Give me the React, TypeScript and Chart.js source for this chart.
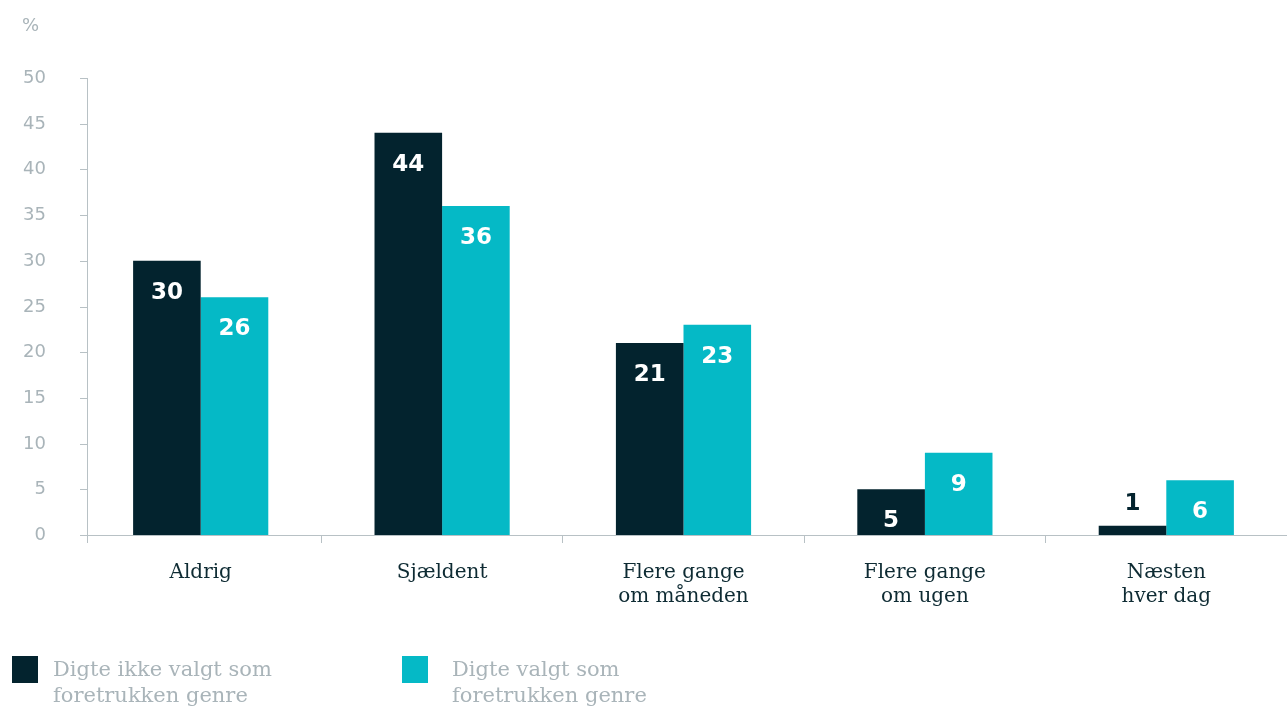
import React, { useEffect, useRef } from "react";
import { Chart, registerables } from "chart.js";

Chart.register(...registerables);

const categories: string[][] = [
  ["Aldrig"],
  ["Sjældent"],
  ["Flere gange", "om måneden"],
  ["Flere gange", "om ugen"],
  ["Næsten", "hver dag"],
];
const notChosen: number[] = [30, 44, 21, 5, 1];
const chosen: number[] = [26, 36, 23, 9, 6];
const yTicks: number[] = [0, 5, 10, 15, 20, 25, 30, 35, 40, 45, 50];
const seriesNames: string[][] = [
  ["Digte ikke valgt som", "foretrukken genre"],
  ["Digte valgt som", "foretrukken genre"],
];

const DARK = "#03232e";
const TEAL = "#05b9c6";
const GRAY = "#a9b4b9";
const AXIS = "#b8c1c5";
const TEXT = "#0e2b33";

const W = 1287;
const H = 706;

const customPlugin = {
  id: "custom",
  afterDraw(chart: any) {
    const ctx = chart.ctx;
    const y = chart.scales.y;
    const axisX = chart.chartArea.left + 7;
    ctx.save();
    // y axis
    ctx.strokeStyle = AXIS;
    ctx.lineWidth = 1;
    ctx.beginPath();
    ctx.moveTo(axisX + 0.5, y.getPixelForValue(50));
    ctx.lineTo(axisX + 0.5, y.getPixelForValue(0) + 8);
    ctx.stroke();
    ctx.fillStyle = GRAY;
    ctx.font = "18px 'DejaVu Sans'";
    ctx.textAlign = "right";
    ctx.textBaseline = "middle";
    yTicks.forEach((t) => {
      const py = Math.round(y.getPixelForValue(t)) + 0.5;
      ctx.beginPath();
      ctx.moveTo(axisX - 7, py);
      ctx.lineTo(axisX, py);
      ctx.stroke();
      ctx.fillText(String(t), 46, py);
    });
    ctx.textAlign = "left";
    ctx.fillText("%", 22, 26);

    // data labels
    chart.data.datasets.forEach((ds: any, di: number) => {
      const meta = chart.getDatasetMeta(di);
      meta.data.forEach((bar: any, i: number) => {
        const h = bar.base - bar.y;
        ctx.font = "bold 23px 'DejaVu Sans'";
        ctx.textAlign = "center";
        ctx.textBaseline = "middle";
        if (h > 40) {
          ctx.fillStyle = "#ffffff";
          ctx.fillText(String(ds.data[i]), bar.x, bar.y + 32);
        } else {
          ctx.fillStyle = DARK;
          ctx.fillText(String(ds.data[i]), bar.x, bar.y - 22);
        }
      });
    });

    // legend
    const legendX = [12, 402];
    const textX = [53, 452];
    const colors = [DARK, TEAL];
    ctx.font = "21px 'DejaVu Serif'";
    ctx.textAlign = "left";
    ctx.textBaseline = "middle";
    seriesNames.forEach((lines, i) => {
      ctx.fillStyle = colors[i];
      ctx.fillRect(legendX[i], 656, 26, 27);
      ctx.fillStyle = GRAY;
      lines.forEach((ln, j) => {
        ctx.fillText(ln, textX[i], 671 + j * 26);
      });
    });
    ctx.restore();
  },
};

export default function App() {
  const ref = useRef<HTMLCanvasElement>(null);
  useEffect(() => {
    if (!ref.current) return;
    const chart = new Chart(ref.current, {
      type: "bar",
      data: {
        labels: categories,
        datasets: [
          {
            label: seriesNames[0].join(" "),
            data: notChosen,
            backgroundColor: DARK,
            barPercentage: 1,
            categoryPercentage: 0.56,
          },
          {
            label: seriesNames[1].join(" "),
            data: chosen,
            backgroundColor: TEAL,
            barPercentage: 1,
            categoryPercentage: 0.56,
          },
        ],
      },
      options: {
        responsive: false,
        animation: false,
        layout: { padding: { left: 80, right: 0, top: 78, bottom: 0 } },
        plugins: { legend: { display: false }, tooltip: { enabled: false } },
        scales: {
          y: { display: false, min: 0, max: 50 },
          x: {
            afterFit: (scale: any) => {
              scale.height = H - 535;
            },
            border: { display: true, color: AXIS, width: 1 },
            grid: {
              offset: true,
              drawOnChartArea: false,
              tickLength: 8,
              color: (c: any) => (c.index === 0 ? "rgba(0,0,0,0)" : AXIS),
            },
            ticks: {
              color: TEXT,
              font: { family: "'DejaVu Serif'", size: 20, lineHeight: 1.2 },
              padding: 18,
              maxRotation: 0,
              autoSkip: false,
            },
          },
        },
      },
      plugins: [customPlugin],
    });
    return () => chart.destroy();
  }, []);
  return (
    <canvas
      ref={ref}
      width={W}
      height={H}
      style={{ position: "fixed", left: 0, top: 0, width: W, height: H }}
    />
  );
}
